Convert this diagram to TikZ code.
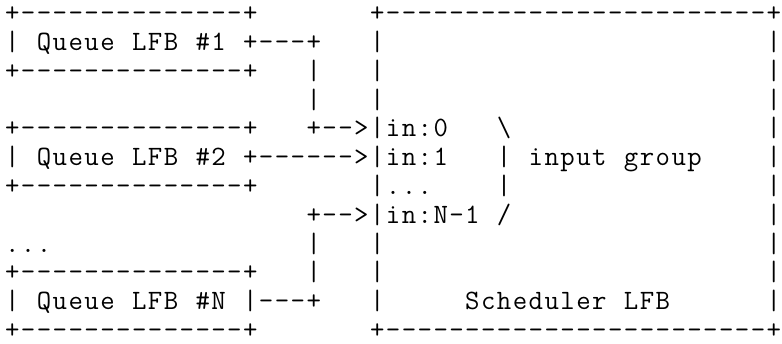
\documentclass[tikz,border=0pt]{standalone}
\usepackage{fontspec}
\usepackage{tikz}

% one character per fixed cell, as on a text terminal
\ExplSyntaxOn
\dim_new:N \g_asc_cell_dim
\dim_gset:Nn \g_asc_cell_dim {11.9pt}
\tl_new:N \l_asc_row_tl
\cs_new:Npn \asc_gap:n #1 { \prg_replicate:nn {#1} { {} } }
\NewDocumentCommand{\asciirow}{m}
  {
    \cs_set_eq:NN \gap \asc_gap:n
    \tl_set:Nx \l_asc_row_tl {#1}
    \tl_map_inline:Nn \l_asc_row_tl { \hbox_to_wd:nn { \g_asc_cell_dim } { \hss ##1 \hss } }
  }
\ExplSyntaxOff
\NewDocumentCommand{\bs}{}{\textbackslash}
\newcommand{\rowsep}{21.6pt}

\begin{document}
\begin{tikzpicture}[ascii/.style={anchor=base west,inner sep=0pt,outer sep=0pt,font=\ttfamily\fontsize{21}{22}\selectfont}]
			\useasboundingbox (0,0) rectangle (586.5pt,-257.25pt);
			\node[ascii] (row_0) at (3.3pt,-16.2pt) {\asciirow{+--------------+\gap{7}+------------------------+}};
			\node[ascii] (row_1) at ([yshift=-\rowsep]row_0.base west) {\asciirow{|\gap{1}Queue\gap{1}LFB\gap{1}\#1\gap{1}+---+\gap{3}|\gap{24}|}};
			\node[ascii] (row_2) at ([yshift=-\rowsep]row_1.base west) {\asciirow{+--------------+\gap{3}|\gap{3}|\gap{24}|}};
			\node[ascii] (row_3) at ([yshift=-\rowsep]row_2.base west) {\asciirow{\gap{19}|\gap{3}|\gap{24}|}};
			\node[ascii] (row_4) at ([yshift=-\rowsep]row_3.base west) {\asciirow{+--------------+\gap{3}+-->|in:0\gap{3}\bs\gap{16}|}};
			\node[ascii] (row_5) at ([yshift=-\rowsep]row_4.base west) {\asciirow{|\gap{1}Queue\gap{1}LFB\gap{1}\#2\gap{1}+------>|in:1\gap{3}|\gap{1}input\gap{1}group\gap{4}|}};
			\node[ascii] (row_6) at ([yshift=-\rowsep]row_5.base west) {\asciirow{+--------------+\gap{7}|...\gap{4}|\gap{16}|}};
			\node[ascii] (row_7) at ([yshift=-\rowsep]row_6.base west) {\asciirow{\gap{19}+-->|in:N-1\gap{1}/\gap{16}|}};
			\node[ascii] (row_8) at ([yshift=-\rowsep]row_7.base west) {\asciirow{...\gap{16}|\gap{3}|\gap{24}|}};
			\node[ascii] (row_9) at ([yshift=-\rowsep]row_8.base west) {\asciirow{+--------------+\gap{3}|\gap{3}|\gap{24}|}};
			\node[ascii] (row_10) at ([yshift=-\rowsep]row_9.base west) {\asciirow{|\gap{1}Queue\gap{1}LFB\gap{1}\#N\gap{1}|---+\gap{3}|\gap{5}Scheduler\gap{1}LFB\gap{6}|}};
			\node[ascii] (row_11) at ([yshift=-\rowsep]row_10.base west) {\asciirow{+--------------+\gap{7}+------------------------+}};
		\end{tikzpicture}
\end{document}
